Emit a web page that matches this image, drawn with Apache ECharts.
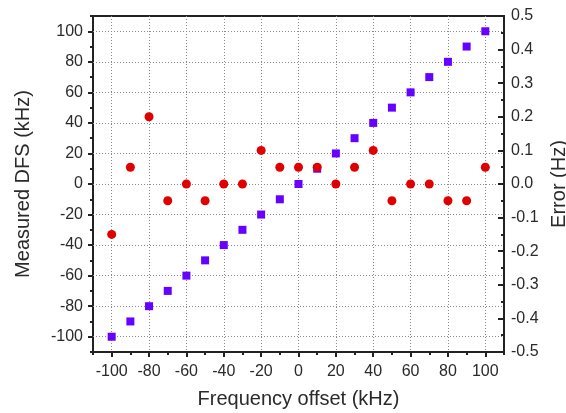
<!DOCTYPE html>
<html>
<head>
<meta charset="utf-8">
<script src="https://cdn.jsdelivr.net/npm/echarts@6/dist/echarts.min.js"></script>
<style>
    html, body { margin: 0; padding: 0; background: #fff; }
    #chartmain { width: 566px; height: 413px; }
</style>
</head>
<body>
<div id="chartmain"></div>
<script>
// frequency offset (kHz)
const offsets = [-100, -90, -80, -70, -60, -50, -40, -30, -20, -10, 0, 10, 20, 30, 40, 50, 60, 70, 80, 90, 100];
// measured DFS (kHz), left axis
const measured = [-100, -90, -80, -70, -60, -50, -40, -30, -20, -10, 0, 10, 20, 30, 40, 50, 60, 70, 80, 90, 100];
// error (Hz), right axis
const errors = [-0.15, 0.05, 0.2, -0.05, 0, -0.05, 0, 0, 0.1, 0.05, 0.05, 0.05, 0, 0.05, 0.1, -0.05, 0, 0, -0.05, -0.05, 0.05];

// tick labels
const majorTicks = [-100, -80, -60, -40, -20, 0, 20, 40, 60, 80, 100];
const minorTicks = [-110, -90, -70, -50, -30, -10, 10, 30, 50, 70, 90, 110];

{
    const dom = document.getElementById('chartmain');
    const chart = echarts.init(dom);

    const textColor = '#2a2a2a';
    const lineColor = '#222';
    const fontFamily = '"Liberation Sans", Arial, sans-serif';

    const majorAxis = (extra) => Object.assign({
        type: 'value',
        min: -110,
        max: 110,
        axisLine: { show: false, onZero: false },
        axisTick: {
            show: true,
            customValues: majorTicks,
            length: 5,
            lineStyle: { color: lineColor, width: 2 }
        },
        axisLabel: {
            customValues: majorTicks,
            color: textColor,
            fontSize: 16,
            fontFamily: fontFamily,
            margin: 10
        },
        splitLine: {
            show: true,
            lineStyle: { color: '#8a8a8a', width: 1, type: [1, 2] }
        },
        nameLocation: 'middle',
        nameTextStyle: { color: textColor, fontSize: 20, fontFamily: fontFamily }
    }, extra);

    const minorAxis = (extra) => Object.assign({
        type: 'value',
        min: -110,
        max: 110,
        axisLine: { show: false, onZero: false },
        axisTick: {
            show: true,
            customValues: minorTicks,
            length: 3,
            lineStyle: { color: lineColor, width: 2 }
        },
        axisLabel: { show: false },
        splitLine: { show: false }
    }, extra);

    const option = {
        animation: false,
        grid: {
            left: 93,
            right: 62,
            top: 16,
            bottom: 61,
            outerBoundsMode: 'none',
            containLabel: false,
            show: true,
            borderColor: lineColor,
            borderWidth: 2,
            backgroundColor: 'transparent'
        },
        xAxis: [
            majorAxis({
                position: 'bottom',
                name: 'Frequency offset (kHz)',
                nameGap: 37,
                axisLabel: {
                    customValues: majorTicks,
                    color: textColor,
                    fontSize: 16,
                    fontFamily: fontFamily,
                    margin: 12
                }
            }),
            minorAxis({ position: 'bottom' })
        ],
        yAxis: [
            majorAxis({
                position: 'left',
                name: 'Measured DFS (kHz)',
                nameGap: 60
            }),
            minorAxis({ position: 'left' }),
            {
                type: 'value',
                position: 'right',
                min: -0.5,
                max: 0.5,
                interval: 0.1,
                name: 'Error (Hz)',
                nameLocation: 'middle',
                nameGap: 43,
                nameTextStyle: { color: textColor, fontSize: 20, fontFamily: fontFamily },
                axisLine: { show: false, onZero: false },
                axisTick: {
                    show: true,
                    inside: true,
                    length: 6,
                    lineStyle: { color: lineColor, width: 2 }
                },
                minorTick: {
                    show: true,
                    splitNumber: 2,
                    length: 3,
                    lineStyle: { color: lineColor, width: 2 }
                },
                axisLabel: {
                    color: textColor,
                    fontSize: 16,
                    fontFamily: fontFamily,
                    margin: 7,
                    formatter: (v) => v.toFixed(1)
                },
                splitLine: { show: false }
            }
        ],
        series: [
            {
                name: 'Measured DFS',
                type: 'scatter',
                xAxisIndex: 0,
                yAxisIndex: 0,
                symbol: 'rect',
                symbolSize: 8,
                itemStyle: { color: '#6600ff', opacity: 1 },
                data: offsets.map((x, i) => [x, measured[i]])
            },
            {
                name: 'Error',
                type: 'scatter',
                xAxisIndex: 0,
                yAxisIndex: 2,
                symbol: 'circle',
                symbolSize: 9,
                itemStyle: { color: '#e00000', opacity: 1 },
                data: offsets.map((x, i) => [x, errors[i]])
            }
        ]
    };

    chart.setOption(option);
    window.addEventListener('resize', function () {
        chart.resize();
    });
}
</script>
</body>
</html>
